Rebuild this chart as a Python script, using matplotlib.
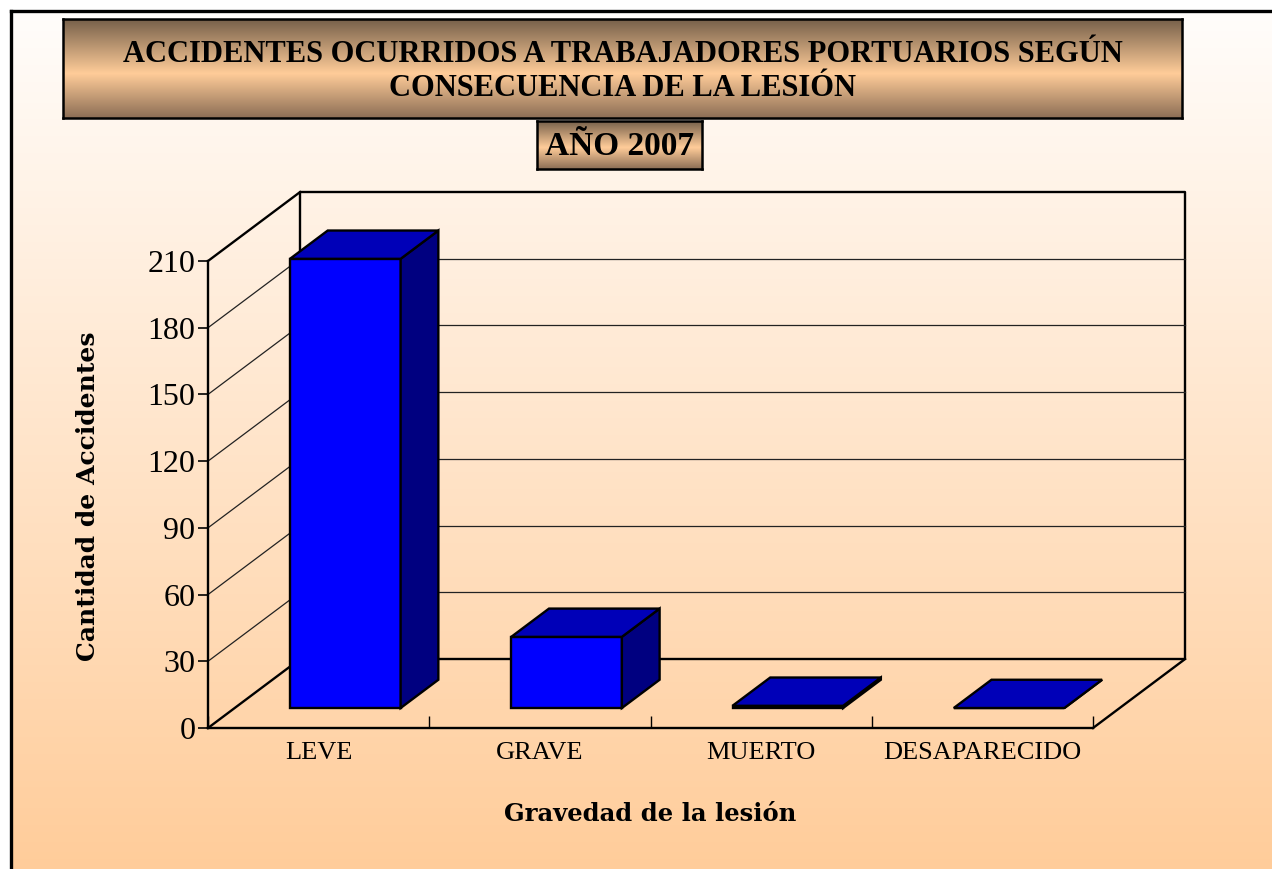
import numpy as np
import matplotlib
matplotlib.use("Agg")
import matplotlib.pyplot as plt
from matplotlib.patches import Polygon

# datos
categorias = ["LEVE", "GRAVE", "MUERTO", "DESAPARECIDO"]
accidentes = [202, 32, 1, 0]
y_ticks = [0, 30, 60, 90, 120, 150, 180, 210]

titulo = "ACCIDENTES OCURRIDOS A TRABAJADORES PORTUARIOS SEGÚN\nCONSECUENCIA DE LA LESIÓN"
subtitulo = "AÑO 2007"
x_label = "Gravedad de la lesión"
y_label = "Cantidad de Accidentes"

plt.rcParams['font.family'] = ['Liberation Serif', 'DejaVu Serif']

W, H = 1272, 869
fig = plt.figure(figsize=(W / 100, H / 100), dpi=100, facecolor="white")


def caja(x0, y0, x1, y1):
    # rectangulo en pixeles (origen arriba-izquierda) -> coordenadas de figura
    return [x0 / W, 1 - y1 / H, (x1 - x0) / W, (y1 - y0) / H]


def gradiente(stops):
    t = np.linspace(0, 1, 256)
    pos = [s[0] for s in stops]
    cols = np.array([s[1] for s in stops]) / 255
    rgb = np.stack([np.interp(t, pos, cols[:, k]) for k in range(3)], axis=-1)
    return rgb[:, None, :]


# fondo con degradado
bg = fig.add_axes(caja(11, 11, W + 10, H + 10), zorder=0)
bg.imshow(gradiente([(0, (255, 253, 251)), (1, (255, 204, 153))]),
          aspect="auto", extent=[0, 1, 0, 1])
bg.set_xticks([])
bg.set_yticks([])
for lado in ["right", "bottom"]:
    bg.spines[lado].set_visible(False)
for lado in ["left", "top"]:
    bg.spines[lado].set_linewidth(2.4)

# ejes principales (plano frontal)
ax = fig.add_axes(caja(208, 261, 1093, 728), zorder=2)
ax.patch.set_visible(False)
ax.set_xlim(0, 4)
ax.set_ylim(0, 210)

DX, DY = 0.416, 31.0      # profundidad oblicua
d0, d1 = 0.29, 0.70       # profundidad de las barras
lw = 1.7
ymax = y_ticks[-1]

# paredes
ax.plot([DX, 4 + DX, 4 + DX, DX, DX], [DY, DY, ymax + DY, ymax + DY, DY],
        color="black", lw=lw, clip_on=False, zorder=1)
for v in y_ticks[1:-1]:
    ax.plot([DX, 4 + DX], [v + DY, v + DY], color="#222222", lw=0.9,
            clip_on=False, zorder=1)
    ax.plot([0, DX], [v, v + DY], color="#222222", lw=0.9,
            clip_on=False, zorder=1)
ax.plot([0, DX], [ymax, ymax + DY], color="black", lw=lw, clip_on=False, zorder=1)
ax.plot([0, DX], [0, DY], color="black", lw=lw, clip_on=False, zorder=1)
ax.plot([4, 4 + DX], [0, DY], color="black", lw=lw, clip_on=False, zorder=1)

# barras 3D
ddx, ddy = (d1 - d0) * DX, (d1 - d0) * DY
for i, v in enumerate(accidentes):
    x0 = i + 0.25 + d0 * DX
    x1 = x0 + 0.5
    yb = d0 * DY
    yt = yb + v
    frente = [(x0, yb), (x1, yb), (x1, yt), (x0, yt)]
    techo = [(x0, yt), (x1, yt), (x1 + ddx, yt + ddy), (x0 + ddx, yt + ddy)]
    lado = [(x1, yb), (x1 + ddx, yb + ddy), (x1 + ddx, yt + ddy), (x1, yt)]
    for pts, c in [(frente, "#0000FF"), (lado, "#000080"), (techo, "#0000B8")]:
        ax.add_patch(Polygon(pts, closed=True, facecolor=c, edgecolor="black",
                             lw=lw, joinstyle="miter", clip_on=False, zorder=3))

for lado_s in ["top", "right"]:
    ax.spines[lado_s].set_visible(False)
for lado_s in ["left", "bottom"]:
    ax.spines[lado_s].set_linewidth(lw)

ax.set_yticks(y_ticks)
ax.tick_params(axis="y", direction="out", length=7, width=1.2,
               labelsize=23, pad=2)
ax.set_xticks(range(5))
ax.set_xticklabels([])
ax.tick_params(axis="x", which="major", direction="in", length=9, width=1.0)
ax.set_xticks([i + 0.5 for i in range(4)], minor=True)
ax.set_xticklabels(categorias, minor=True)
ax.tick_params(axis="x", which="minor", length=0, labelsize=19, pad=10)

fig.text(88 / W, 1 - 496 / H, y_label, rotation=90, ha="center", va="center",
         fontsize=18, fontweight="bold", family="DejaVu Serif")
fig.text(650 / W, 1 - 814 / H, x_label, ha="center", va="center",
         fontsize=17.5, fontweight="bold", family="DejaVu Serif")

# cajas de titulo
marron = gradiente([(0, (118, 96, 74)), (0.55, (255, 204, 153)), (1, (140, 110, 85))])
for rect, texto, fs in [((63, 19, 1182, 118), titulo, 22),
                        ((537, 121, 702, 169), subtitulo, 24)]:
    tb = fig.add_axes(caja(*rect), zorder=3)
    tb.imshow(marron, aspect="auto", extent=[0, 1, 0, 1])
    tb.set_xticks([])
    tb.set_yticks([])
    for s in tb.spines.values():
        s.set_linewidth(1.8)
    tb.text(0.5, 0.47, texto, ha="center", va="center", fontsize=fs,
            fontweight="bold", linespacing=1.25, transform=tb.transAxes)

fig.savefig("out.png", dpi=100, facecolor="white")
